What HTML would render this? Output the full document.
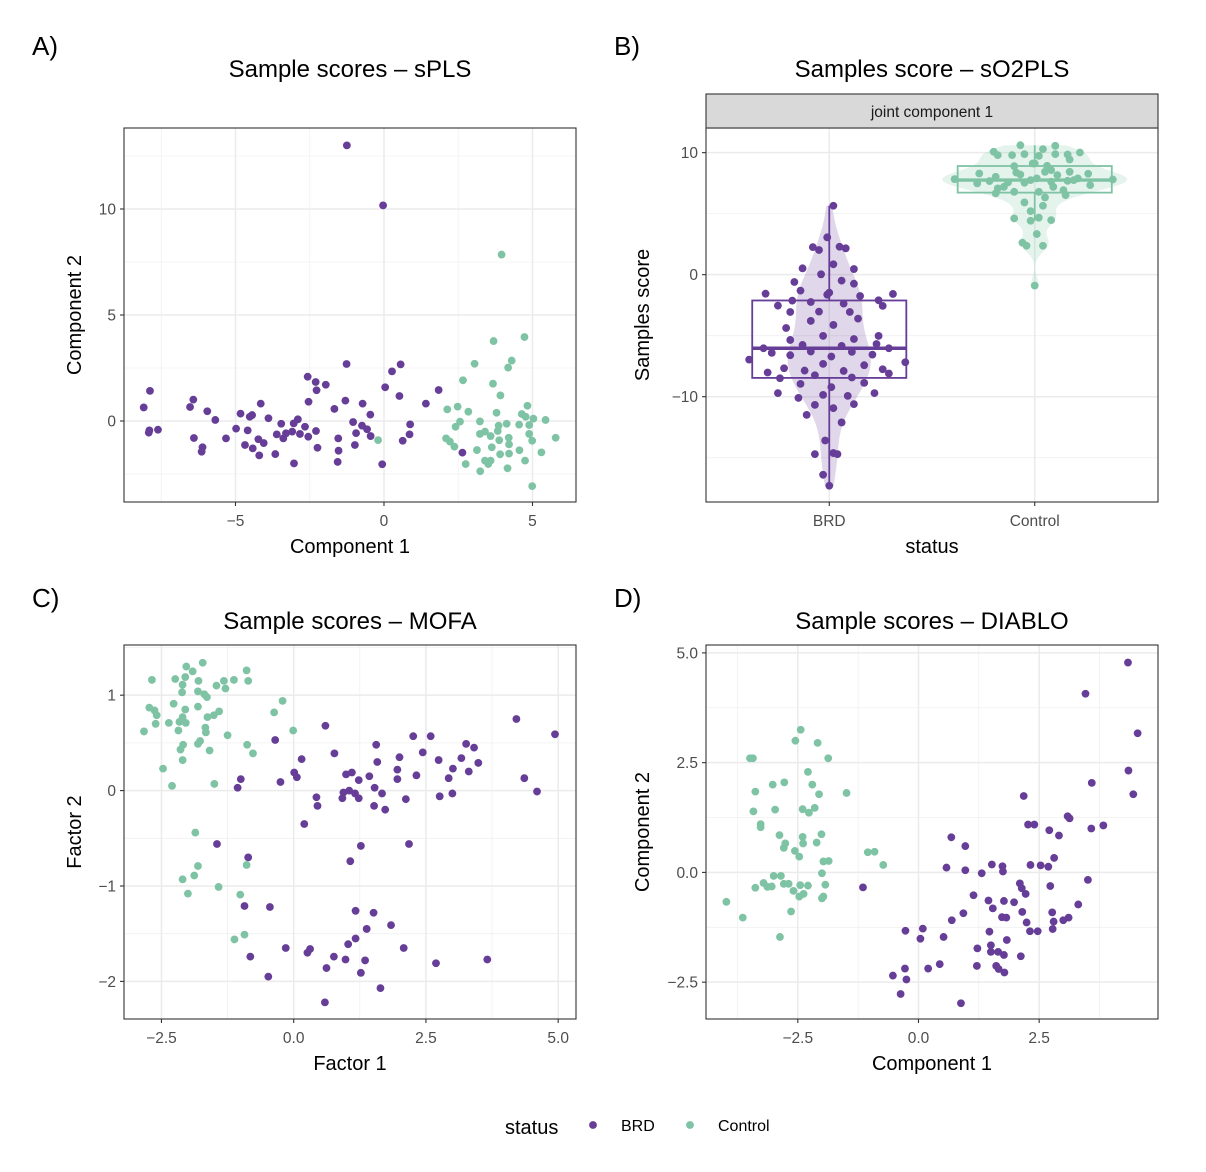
<!DOCTYPE html>
<html><head><meta charset="utf-8">
<style>
html,body{margin:0;padding:0;background:#fff;}
svg{display:block;font-family:"Liberation Sans",Arial,sans-serif;}
</style></head>
<body>
<svg id="fig" width="1206" height="1172" viewBox="0 0 1206 1172" xmlns="http://www.w3.org/2000/svg">
<rect width="1206" height="1172" fill="#fff"/>
<g id="root"></g>
</svg>
<script>
// ---------- Panel A: sPLS ----------
const aBrdX=[-1.25,-0.03,-1.26,0.56,0.27,-2.57,-2.30,-1.96,-2.27,0.04,-7.88,1.84,0.52,-8.09,-6.42,-6.53,-2.54,-1.30,-0.72,1.41,-4.15,-5.95,-1.67,-4.83,-4.44,-4.52,-0.46,-5.68,-3.89,-2.90,-1.04,0.88,-3.46,-3.04,-2.66,-0.74,-0.57,-4.98,-4.59,-7.90,-7.61,-7.92,-3.61,-3.30,-3.09,-2.83,-2.55,-2.29,-3.39,-0.94,-0.45,0.86,-6.40,-5.32,-4.23,-4.05,-1.54,0.63,-4.68,-4.42,-6.11,-6.14,-2.24,-0.98,-1.53,-4.20,-3.66,2.64,-3.03,-1.56,-0.06];
const aBrdY=[13.0,10.17,2.69,2.67,2.34,2.09,1.84,1.71,1.45,1.59,1.42,1.46,1.18,0.64,1.01,0.66,0.91,0.96,0.82,0.82,0.82,0.46,0.57,0.35,0.28,0.20,0.30,0.05,0.13,0.08,-0.05,-0.16,-0.13,-0.11,-0.27,-0.22,-0.39,-0.36,-0.44,-0.44,-0.41,-0.55,-0.63,-0.58,-0.50,-0.61,-0.74,-0.47,-0.82,-0.57,-0.71,-0.63,-0.80,-0.82,-0.86,-1.04,-0.82,-0.93,-1.13,-1.29,-1.24,-1.45,-1.26,-1.13,-1.40,-1.62,-1.56,-1.49,-2.00,-1.93,-2.04];
const aCtlX=[3.96,3.69,4.73,4.30,4.18,3.05,2.66,3.67,3.92,4.83,2.13,2.48,2.84,3.79,4.64,4.77,5.03,5.44,2.56,3.23,4.13,4.55,3.86,4.89,2.41,3.40,3.23,3.59,3.83,4.89,5.78,2.09,-0.20,4.20,2.22,3.88,4.99,4.21,2.37,3.63,3.13,4.56,5.30,3.91,4.21,4.75,3.40,3.59,3.51,2.75,4.16,3.24,4.99];
const aCtlY=[7.85,3.77,3.96,2.85,2.52,2.70,1.92,1.76,1.21,0.72,0.55,0.68,0.44,0.39,0.33,0.20,0.11,0.05,-0.03,-0.02,-0.13,-0.17,-0.22,-0.19,-0.27,-0.50,-0.61,-0.71,-0.47,-0.61,-0.79,-0.82,-0.90,-0.79,-0.97,-0.91,-0.93,-1.10,-1.21,-1.24,-1.37,-1.38,-1.48,-1.57,-1.54,-1.87,-1.87,-1.87,-2.03,-2.03,-2.23,-2.37,-3.07];
const aXTicks=[-5,0,5], aXTickLabels=["\u22125","0","5"];
const aYTicks=[0,5,10], aYTickLabels=["0","5","10"];

// ---------- Panel B: sO2PLS ----------
const bCategories=["BRD","Control"];
const bBrdY=[5.65,3.06,2.26,2.02,2.29,2.16,0.85,0.52,0.46,0.03,-0.60,-0.49,-0.74,-1.31,-1.56,-1.47,-1.64,-1.75,-1.58,-2.13,-2.24,-2.54,-2.37,-2.10,-2.56,-3.06,-3.03,-3.06,-3.60,-3.79,-4.12,-4.37,-5.02,-5.02,-5.27,-5.35,-5.76,-5.84,-5.68,-6.03,-6.41,-6.30,-6.33,-6.03,-6.60,-6.71,-6.55,-6.96,-7.31,-7.42,-7.18,-8.02,-7.67,-7.86,-7.89,-7.75,-8.10,-8.24,-8.49,-8.43,-8.95,-9.22,-8.87,-9.71,-9.85,-9.71,-9.93,-10.10,-10.67,-10.61,-10.94,-11.49,-12.11,-13.59,-14.71,-14.62,-14.71,-16.40,-17.30];
const bBrdJitter=[0.02,-0.01,-0.08,-0.05,0.05,0.08,0.02,-0.13,0.12,-0.04,-0.17,0.06,0.12,-0.14,-0.31,0.00,-0.01,0.15,0.31,-0.18,-0.09,-0.25,0.07,0.24,0.26,-0.19,-0.05,0.10,0.14,-0.09,0.02,-0.21,-0.03,0.24,0.12,-0.19,-0.13,0.06,0.23,-0.32,-0.28,-0.09,0.11,0.29,-0.19,0.01,0.21,-0.39,-0.03,0.17,0.37,-0.30,-0.22,-0.12,0.07,0.26,0.29,-0.07,-0.24,0.11,-0.14,0.01,0.17,-0.25,-0.03,0.22,0.09,-0.15,-0.07,0.12,0.02,-0.11,0.06,-0.02,-0.07,0.02,0.04,-0.03,0.00];
const bCtlY=[10.61,10.56,10.07,9.80,9.80,9.88,10.29,9.88,9.85,10.01,9.74,9.44,9.11,8.89,8.92,8.43,7.83,8.29,8.02,8.37,8.21,8.16,8.43,8.27,7.80,7.48,7.67,7.56,7.53,7.89,7.61,7.69,7.89,7.34,7.07,6.79,7.75,6.79,7.20,6.93,6.66,6.33,6.52,5.92,5.65,5.21,4.61,4.42,4.67,4.47,3.33,2.62,2.37,2.37,-0.90,8.57,7.20,7.75,9.11];
const bCtlJitter=[-0.07,0.10,-0.20,-0.18,-0.11,-0.05,0.04,0.10,0.16,0.22,0.02,0.17,-0.01,-0.10,0.06,0.05,-0.39,-0.27,-0.19,-0.09,-0.07,0.11,0.17,0.26,0.38,-0.28,-0.22,-0.13,-0.05,0.01,0.08,0.16,0.21,0.27,-0.18,-0.10,-0.02,0.02,0.09,0.14,-0.19,0.05,0.15,-0.05,0.04,-0.02,-0.10,-0.02,0.02,0.08,0.01,-0.06,-0.04,0.04,0,0.08,-0.15,0.19,0];
const bYTicks=[-10,0,10], bYTickLabels=["\u221210","0","10"];

// ---------- Panel C: MOFA ----------
const cCtlX=[-1.72,-2.03,-1.91,-0.89,-2.68,-2.24,-2.05,-1.80,-1.13,-0.86,-1.32,-2.10,-1.46,-1.29,-2.11,-1.81,-1.69,-1.64,-2.27,-2.73,-1.81,-2.63,-2.05,-1.41,-2.59,-1.51,-1.63,-2.10,-2.16,-2.04,-2.36,-2.61,-0.21,-0.37,-0.01,-2.83,-2.18,-1.66,-1.67,-1.25,-2.09,-1.77,-1.81,-0.88,-2.14,-1.59,-0.77,-2.10,-2.47,-2.30,-1.50,-1.86,-1.81,-0.89,-1.88,-2.10,-2.00,-1.42,-1.01,-0.93,-1.12];
const cCtlY=[1.34,1.30,1.25,1.26,1.16,1.17,1.19,1.15,1.16,1.15,1.15,1.11,1.10,1.07,1.03,1.04,1.01,0.98,0.91,0.87,0.88,0.84,0.85,0.83,0.79,0.79,0.77,0.77,0.72,0.71,0.71,0.70,0.94,0.82,0.63,0.62,0.63,0.61,0.66,0.58,0.48,0.52,0.49,0.48,0.43,0.42,0.39,0.32,0.23,0.05,0.07,-0.44,-0.79,-0.78,-0.89,-0.93,-1.08,-1.01,-1.09,-1.51,-1.56];
const cBrdX=[4.21,4.94,0.60,-0.35,2.26,2.59,1.56,3.26,3.41,0.77,2.44,0.15,2.00,2.74,3.17,1.58,3.49,3.01,1.96,0.01,0.06,0.99,1.10,1.43,1.23,1.96,2.32,2.93,3.31,-1.00,-1.06,-0.25,1.53,4.36,4.60,0.94,1.05,1.16,1.23,0.92,1.67,2.12,2.76,3.00,0.43,0.45,1.52,1.73,0.20,-1.45,1.27,2.18,-0.86,1.07,-0.93,-0.45,1.17,1.51,1.84,1.38,1.17,1.03,-0.15,0.31,0.26,2.08,0.76,-0.82,0.98,1.35,3.66,2.69,0.62,1.27,-0.48,1.64,0.59];
const cBrdY=[0.75,0.59,0.68,0.53,0.57,0.57,0.48,0.49,0.45,0.39,0.40,0.33,0.35,0.32,0.34,0.30,0.29,0.23,0.22,0.19,0.14,0.17,0.19,0.15,0.11,0.12,0.16,0.13,0.20,0.12,0.03,0.09,0.03,0.13,-0.01,-0.02,0.00,-0.03,-0.08,-0.08,-0.03,-0.09,-0.06,-0.03,-0.07,-0.16,-0.16,-0.20,-0.35,-0.56,-0.58,-0.56,-0.70,-0.74,-1.21,-1.22,-1.26,-1.28,-1.41,-1.45,-1.55,-1.61,-1.65,-1.66,-1.70,-1.65,-1.74,-1.74,-1.77,-1.78,-1.77,-1.81,-1.86,-1.91,-1.95,-2.07,-2.22];
const cXTicks=[-2.5,0,2.5,5], cXTickLabels=["\u22122.5","0.0","2.5","5.0"];
const cYTicks=[-2,-1,0,1], cYTickLabels=["\u22122","\u22121","0","1"];

// ---------- Panel D: DIABLO ----------
const dCtlX=[-2.44,-2.55,-2.09,-1.87,-3.49,-3.43,-2.29,-2.78,-3.02,-2.20,-3.38,-2.06,-1.49,-3.42,-2.97,-2.40,-2.15,-2.27,-3.27,-3.27,-2.88,-2.40,-2.01,-2.76,-2.79,-2.39,-2.11,-2.56,-2.47,-1.97,-1.86,-2.00,-3.00,-2.85,-3.21,-3.38,-3.13,-3.04,-2.79,-2.69,-2.45,-2.29,-1.93,-2.59,-2.47,-2.38,-2.00,-1.97,-3.98,-3.64,-2.64,-2.87,-1.05,-0.91,-0.73];
const dCtlY=[3.25,3.00,2.95,2.60,2.60,2.60,2.29,2.05,2.00,2.00,1.84,1.78,1.81,1.39,1.43,1.44,1.47,1.36,1.10,1.03,0.85,0.81,0.87,0.66,0.56,0.66,0.68,0.49,0.36,0.25,0.26,-0.02,-0.08,-0.08,-0.24,-0.35,-0.33,-0.32,-0.26,-0.26,-0.29,-0.30,-0.28,-0.42,-0.55,-0.49,-0.59,-0.55,-0.67,-1.03,-0.89,-1.47,0.46,0.47,0.17];
const dBrdX=[4.34,3.46,4.54,4.35,3.59,4.45,2.18,3.09,3.13,2.27,2.40,3.58,3.83,2.71,2.91,0.68,0.97,2.81,1.52,1.74,1.75,2.32,2.53,2.69,0.58,0.97,1.31,2.10,2.14,2.22,2.73,3.51,-1.15,1.14,1.45,1.77,1.98,1.54,2.15,2.77,3.31,0.93,0.69,1.73,1.82,2.24,2.80,3.00,3.11,-0.27,0.09,0.04,0.52,1.47,2.31,2.47,2.78,1.83,1.22,1.50,1.50,1.65,1.77,2.12,0.44,0.20,1.21,1.61,1.66,1.78,-0.28,-0.53,-0.25,-0.37,0.88];
const dBrdY=[4.78,4.07,3.17,2.32,2.04,1.78,1.74,1.28,1.23,1.09,1.09,1.00,1.07,0.96,0.84,0.80,0.60,0.33,0.18,0.14,0.02,0.17,0.16,0.13,0.11,0.05,-0.02,-0.25,-0.36,-0.49,-0.31,-0.17,-0.34,-0.52,-0.64,-0.65,-0.68,-0.82,-0.90,-0.91,-0.73,-0.93,-1.09,-1.02,-1.03,-1.14,-1.12,-1.09,-1.03,-1.33,-1.28,-1.51,-1.47,-1.35,-1.34,-1.34,-1.29,-1.54,-1.73,-1.66,-1.81,-1.81,-1.88,-1.91,-2.09,-2.19,-2.13,-2.13,-2.20,-2.28,-2.19,-2.35,-2.44,-2.77,-2.98];
const dXTicks=[-2.5,0,2.5], dXTickLabels=["\u22122.5","0.0","2.5"];
const dYTicks=[-2.5,0,2.5,5], dYTickLabels=["\u22122.5","0.0","2.5","5.0"];

// ---------- rendering ----------
const NS="http://www.w3.org/2000/svg";
const PURPLE="#663d97", GREEN="#7fc3a5";
const root=document.getElementById('root');
function mk(tag,attrs,parent){const e=document.createElementNS(NS,tag);for(const k in attrs)e.setAttribute(k,attrs[k]);(parent||root).appendChild(e);return e;}
function txt(s,attrs,parent){const e=mk('text',attrs,parent);e.textContent=s;return e;}
function lin(d0,d1,r0,r1){return v=>r0+(v-d0)/(d1-d0)*(r1-r0);}

function frame(g,L,T,W,H){
  const r=mk('rect',{x:L,y:T,width:W,height:H,fill:'none',stroke:'#333',"stroke-width":1.1},g);
  
  
}
function grid(g,L,T,W,H,sx,sy,xs,ys,xm,ym){
  const gg=mk('g',{},g);
  
  
  (xm||[]).forEach(v=>mk('line',{x1:sx(v),x2:sx(v),y1:T,y2:T+H,stroke:'#f0f0f0','stroke-width':0.8},gg));
  (ym||[]).forEach(v=>mk('line',{y1:sy(v),y2:sy(v),x1:L,x2:L+W,stroke:'#f0f0f0','stroke-width':0.8},gg));
  (xs||[]).forEach(v=>mk('line',{x1:sx(v),x2:sx(v),y1:T,y2:T+H,stroke:'#ebebeb','stroke-width':1.5},gg));
  (ys||[]).forEach(v=>mk('line',{y1:sy(v),y2:sy(v),x1:L,x2:L+W,stroke:'#ebebeb','stroke-width':1.5},gg));
}
function axes(g,L,T,W,H,sx,sy,xt,xl,yt,yl){
  const gx=mk('g',{},g);
  
  
  xt.forEach((v,i)=>{mk('line',{x1:sx(v),x2:sx(v),y1:T+H,y2:T+H+4,stroke:'#333','stroke-width':1.1},gx);
    const t=txt(xl[i],{x:sx(v),y:T+H+24,'font-size':15.5,fill:'#4d4d4d','text-anchor':'middle'},gx);
    
    });
  const gy=mk('g',{},g);
  
  
  yt.forEach((v,i)=>{mk('line',{y1:sy(v),y2:sy(v),x1:L-4,x2:L,stroke:'#333','stroke-width':1.1},gy);
    const t=txt(yl[i],{x:L-8,y:sy(v)+5.5,'font-size':15.5,fill:'#4d4d4d','text-anchor':'end'},gy);
    
    });
}
function titles(g,L,T,W,H,title,titleY,xt,yt,ytx,label,labelY){
  const t=txt(title,{x:L+W/2,y:titleY,'font-size':24,fill:'#000','text-anchor':'middle'},g);
  
  
  const x=txt(xt,{x:L+W/2,y:T+H+51,'font-size':20,fill:'#000','text-anchor':'middle'},g);
  
  
  const cy=T+H/2;
  const y=txt(yt,{x:ytx,y:cy,'font-size':20,fill:'#000','text-anchor':'middle',transform:`rotate(-90 ${ytx} ${cy})`},g);
  
  
  const p=txt(label,{x:L-92,y:labelY,'font-size':26,fill:'#000'},g);
  
  
}
function points(g,xs,ys,sx,sy,col,name){
  const gp=mk('g',{},g);
  
  
  xs.forEach((v,i)=>{const c=mk('circle',{cx:sx(v),cy:sy(ys[i]),r:3.9,fill:col},gp);
    
    });
}
function scatterPanel(o){
  const g=mk('g',{});
  
  
  const sx=lin(o.xr[0],o.xr[1],o.L,o.L+o.W), sy=lin(o.yr[0],o.yr[1],o.T+o.H,o.T);
  grid(g,o.L,o.T,o.W,o.H,sx,sy,o.xt,o.yt,o.xm,o.ym);
  points(g,o.x1,o.y1,sx,sy,o.c1,'series-points-1');
  points(g,o.x2,o.y2,sx,sy,o.c2,'series-points-2');
  frame(g,o.L,o.T,o.W,o.H);
  axes(g,o.L,o.T,o.W,o.H,sx,sy,o.xt,o.xl,o.yt,o.yl);
  titles(g,o.L,o.T,o.W,o.H,o.title,o.titleY,o.xtitle,o.ytitle,o.ytx,o.label,o.labelY);
}

scatterPanel({name:'panel-a-spls',L:124,T:128,W:452,H:374,xr:[-8.754,6.465],yr:[-3.82,13.82],
  xt:aXTicks,xl:aXTickLabels,yt:aYTicks,yl:aYTickLabels,xm:[-7.5,-2.5,2.5],ym:[-2.5,2.5,7.5,12.5],
  x1:aBrdX,y1:aBrdY,c1:PURPLE,x2:aCtlX,y2:aCtlY,c2:GREEN,
  title:'Sample scores \u2013 sPLS',titleY:77,xtitle:'Component 1',ytitle:'Component 2',ytx:81,label:'A)',labelY:55});
scatterPanel({name:'panel-c-mofa',L:124,T:645,W:452,H:374,xr:[-3.208,5.337],yr:[-2.394,1.526],
  xt:cXTicks,xl:cXTickLabels,yt:cYTicks,yl:cYTickLabels,xm:[-1.25,1.25,3.75],ym:[-1.5,-0.5,0.5,1.5],
  x1:cCtlX,y1:cCtlY,c1:GREEN,x2:cBrdX,y2:cBrdY,c2:PURPLE,
  title:'Sample scores \u2013 MOFA',titleY:629,xtitle:'Factor 1',ytitle:'Factor 2',ytx:81,label:'C)',labelY:607});
scatterPanel({name:'panel-d-diablo',L:706,T:645,W:452,H:374,xr:[-4.402,4.962],yr:[-3.339,5.180],
  xt:dXTicks,xl:dXTickLabels,yt:dYTicks,yl:dYTickLabels,xm:[-3.75,-1.25,1.25,3.75],ym:[-1.25,1.25,3.75],
  x1:dCtlX,y1:dCtlY,c1:GREEN,x2:dBrdX,y2:dBrdY,c2:PURPLE,
  title:'Sample scores \u2013 DIABLO',titleY:629,xtitle:'Component 1',ytitle:'Component 2',ytx:649,label:'D)',labelY:607});

// Panel B
(function(){
  const L=706,T=128,W=452,H=374;
  const g=mk('g',{});
  
  
  const sx=lin(0.4,2.6,L,L+W);
  const sy=lin(-18.63,12.02,T+H,T);
  grid(g,L,T,W,H,sx,sy,[1,2],bYTicks,[],[-15,-5,5]);
  function quant(a,p){const s=[...a].sort((x,y)=>x-y);const h=(s.length-1)*p,lo=Math.floor(h);return s[lo]+(h-lo)*((s[Math.min(lo+1,s.length-1)])-s[lo]);}
  function sd(a){const m=a.reduce((s,v)=>s+v,0)/a.length;return Math.sqrt(a.reduce((s,v)=>s+(v-m)*(v-m),0)/(a.length-1));}
  function kde(a){const n=a.length;const bw=0.9*Math.min(sd(a),(quant(a,.75)-quant(a,.25))/1.34)*Math.pow(n,-0.2);
    const mn=Math.min(...a),mx=Math.max(...a),pts=[];
    for(let i=0;i<=200;i++){const y=mn+(mx-mn)*i/200;let d=0;a.forEach(v=>{const z=(y-v)/bw;d+=Math.exp(-z*z/2);});pts.push([y,d/(n*bw*Math.sqrt(2*Math.PI))*n]);}
    return pts;}
  const groups=[[bBrdY,bBrdJitter,PURPLE,'brd'],[bCtlY,bCtlJitter,GREEN,'control']];
  const dens=groups.map(gr=>kde(gr[0]));
  const maxD=Math.max(...dens.flat().map(p=>p[1]));
  groups.forEach((gr,gi)=>{
    const cx=gi+1,col=gr[2];
    const d=dens[gi];
    let p='';
    d.forEach((q,i)=>{p+=(i?'L':'M')+sx(cx-0.45*q[1]/maxD)+','+sy(q[0]);});
    for(let i=d.length-1;i>=0;i--){p+='L'+sx(cx+0.45*d[i][1]/maxD)+','+sy(d[i][0]);}
    const v=mk('path',{d:p+'Z',fill:col,'fill-opacity':0.2,stroke:'none'},g);
    
    
    const a=gr[0];
    const q1=quant(a,.25),q2=quant(a,.5),q3=quant(a,.75),iqr=q3-q1;
    const hiW=Math.max(...a.filter(v=>v<=q3+1.5*iqr)),loW=Math.min(...a.filter(v=>v>=q1-1.5*iqr));
    const bx=mk('g',{},g);
    
    
    mk('line',{x1:sx(cx),x2:sx(cx),y1:sy(q3),y2:sy(hiW),stroke:col,'stroke-width':1.8},bx);
    mk('line',{x1:sx(cx),x2:sx(cx),y1:sy(q1),y2:sy(loW),stroke:col,'stroke-width':1.8},bx);
    mk('rect',{x:sx(cx-0.375),y:sy(q3),width:sx(cx+0.375)-sx(cx-0.375),height:sy(q1)-sy(q3),fill:'none',stroke:col,'stroke-width':1.8},bx);
    mk('line',{x1:sx(cx-0.375),x2:sx(cx+0.375),y1:sy(q2),y2:sy(q2),stroke:col,'stroke-width':3.4},bx);
    points(g,gr[1].map(j=>cx+j),a,sx,sy,col,'points-'+gr[3]);
  });
  frame(g,L,T,W,H);
  const s=mk('rect',{x:L,y:94,width:W,height:34,fill:'#d9d9d9',stroke:'#333','stroke-width':1.1},g);
  
  
  const st=txt('joint component 1',{x:L+W/2,y:117,'font-size':15.5,fill:'#1a1a1a','text-anchor':'middle'},g);
  
  
  axes(g,L,T,W,H,sx,sy,[1,2],bCategories,bYTicks,bYTickLabels);
  titles(g,L,T,W,H,'Samples score \u2013 sO2PLS',77,'status','Samples score',649,'B)',55);
})();

// legend
(function(){
  const g=mk('g',{});
  
  
  const t=txt('status',{x:505,y:1134,'font-size':20,fill:'#000'},g);
  
  
  [[593,621,PURPLE,'BRD'],[690,718,GREEN,'Control']].forEach(e=>{
    const eg=mk('g',{},g);
    
    
    mk('circle',{cx:e[0],cy:1125,r:3.9,fill:e[2]},eg);
    txt(e[3],{x:e[1],y:1131,'font-size':16,fill:'#000'},eg);
  });
})();
</script>
</body></html>
